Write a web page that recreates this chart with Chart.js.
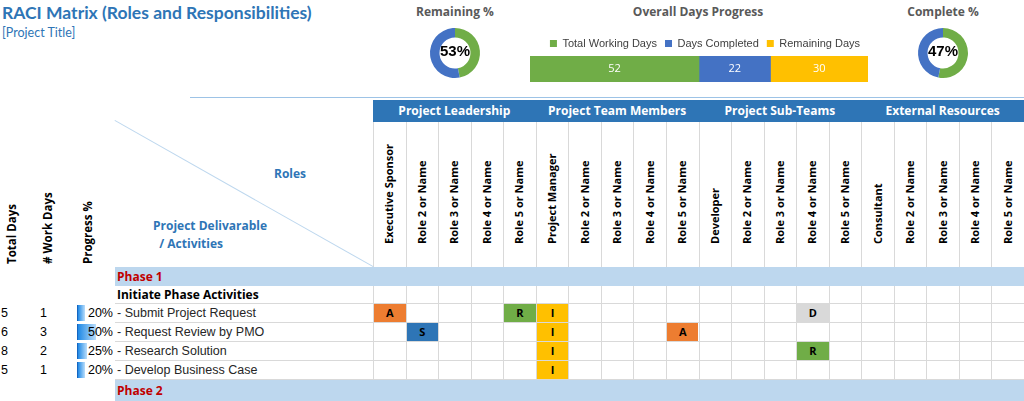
<!DOCTYPE html>
<html><head><meta charset="utf-8">
<script src="https://cdn.jsdelivr.net/npm/chart.js@4/dist/chart.umd.min.js"></script>
<style>
body{margin:0;width:1024px;height:401px;overflow:hidden;background:#fff;font-family:"Open Sans",Lato,sans-serif;position:relative}
.a{position:absolute;white-space:nowrap}
.t{font-weight:bold;color:#595959;font-size:12px;text-align:center}
.rot{transform-origin:left top;transform:rotate(-90deg);font-weight:bold;font-size:11px;color:#000}
</style></head><body>
<script>
const remainingPct=53, completePct=47;
const dayLabels=["Total Working Days","Days Completed","Remaining Days"];
const dayValues=[52,22,30];
const groups=["Project Leadership","Project Team Members","Project Sub-Teams","External Resources"];
const roles=["Executive Sponsor","Role 2 or Name","Role 3 or Name","Role 4 or Name","Role 5 or Name",
"Project Manager","Role 2 or Name","Role 3 or Name","Role 4 or Name","Role 5 or Name",
"Developer","Role 2 or Name","Role 3 or Name","Role 4 or Name","Role 5 or Name",
"Consultant","Role 2 or Name","Role 3 or Name","Role 4 or Name","Role 5 or Name"];
const rowLabels=["Phase 1","Initiate Phase Activities"," - Submit Project Request"," - Request Review by PMO"," - Research Solution"," - Develop Business Case","Phase 2"];
const totalDays=[null,null,5,6,8,5,null];
const workDays=[null,null,1,3,2,1,null];
const progress=[null,null,20,50,25,20,null];
const raci=[{},{},{0:"A",4:"R",5:"I",13:"D"},{1:"S",5:"I",9:"A"},{5:"I",13:"R"},{5:"I"},{}];
const raciColors={A:"#ED7D31",R:"#70AD47",I:"#FFC000",S:"#2E75B6",D:"#D9D9D9"};

const B=document.body;
function el(html,style,cls){const d=document.createElement('div');d.className='a '+(cls||'');d.innerHTML=html;Object.assign(d.style,style);B.appendChild(d);return d;}
el("RACI Matrix (Roles and Responsibilities)",{left:'2px',top:'2px',fontSize:'17.5px',fontWeight:'bold',color:'#2E75B6',fontFamily:'Lato'});
el("[Project Title]",{left:'2px',top:'25px',fontSize:'12.5px',color:'#2E75B6',fontFamily:'Lato'});
el("Remaining %",{left:'405px',top:'3px',width:'100px'},'t');
el("Overall Days Progress",{left:'598px',top:'3px',width:'200px'},'t');
el("Complete %",{left:'893px',top:'3px',width:'100px'},'t');

const X0=373,CW=32.55;
el("",{left:'190px',top:'97px',width:(1024-190)+'px',height:'1px',background:'#9DC3E6'});
groups.forEach((g,i)=>el(g,{left:(X0+i*5*CW)+'px',top:'100px',width:(5*CW)+'px',height:'22px',lineHeight:'22px',background:'#2E75B6',color:'#fff',fontWeight:'bold',fontSize:'12px',textAlign:'center'}));
roles.forEach((r,i)=>{
  const x=X0+i*CW;
  el("",{left:x+'px',top:'122px',width:'1px',height:'277px',background:'#D9D9D9'});
  el(r,{left:(x+CW/2-8)+'px',top:'244px'},'rot');
});
el("",{left:'115px',top:'120px',width:'297px',height:'1px',background:'#BDD7EE',transformOrigin:'left top',transform:'rotate(29.5deg)'});
el("Roles",{left:'274px',top:'165px',fontSize:'12px',fontWeight:'bold',color:'#2E75B6'});
el("Project Delivarable<br>&nbsp;&nbsp;/ Activities",{left:'153px',top:'217px',fontSize:'12px',fontWeight:'bold',color:'#2E75B6',lineHeight:'18px'});
el("Total Days",{left:'4px',top:'264px',fontSize:'11.5px'},'rot');
el("# Work Days",{left:'40px',top:'264px',fontSize:'11.5px'},'rot');
el("Progress %",{left:'80px',top:'264px',fontSize:'11.5px'},'rot');

const tops=[267,285,304,323,342,361,380];
rowLabels.forEach((lab,r)=>{
  const y=tops[r],h=(r===6?21:19);
  const phase=lab.startsWith("Phase");
  if(phase) el("",{left:'115px',top:y+'px',width:(1024-115)+'px',height:h+'px',background:'#BDD7EE'});
  else el("",{left:'115px',top:(y+h-1)+'px',width:(1024-115)+'px',height:'1px',background:'#D9D9D9'});
  el(lab,{left:'117px',top:y+'px',height:h+'px',lineHeight:h+'px',fontSize:phase||r===1?'12px':'12.5px',fontWeight:phase||r===1?'bold':'normal',color:phase?'#C00000':(r===1?'#000':'#262626'),fontFamily:phase||r===1?'"Open Sans"':'"Liberation Sans"'});
  if(totalDays[r]!=null){
    el(totalDays[r],{left:'1px',top:y+'px',lineHeight:h+'px',fontSize:'12.5px',fontFamily:'"Liberation Sans"'});
    el(workDays[r],{left:'40px',top:y+'px',lineHeight:h+'px',fontSize:'12.5px',fontFamily:'"Liberation Sans"'});
    el("",{left:'77px',top:(y+1)+'px',width:(progress[r]*0.36)+'px',height:(h-3)+'px',background:'linear-gradient(90deg,#1E88E5,#BBDEFB)',borderLeft:'1px solid #1565C0'});
    el(progress[r]+"%",{left:'75px',top:y+'px',width:'38px',textAlign:'right',lineHeight:h+'px',fontSize:'12.5px',fontFamily:'"Liberation Sans"'});
  }
  Object.entries(raci[r]).forEach(([c,v])=>{
    el(v,{left:(X0+c*CW+1)+'px',top:y+'px',width:(CW-1)+'px',height:(h-1)+'px',lineHeight:(h-1)+'px',background:raciColors[v],textAlign:'center',fontWeight:'bold',fontSize:'11px'});
  });
});

function donut(cx,pct){
  const c=document.createElement('canvas');
  const w=el("",{left:(cx-30)+'px',top:'23px',width:'60px',height:'60px'});
  w.appendChild(c);
  new Chart(c,{type:'doughnut',data:{datasets:[{data:[100-pct,pct],backgroundColor:['#70AD47','#4472C4'],borderWidth:0}]},
   options:{responsive:true,maintainAspectRatio:false,animation:false,cutout:'62%',layout:{padding:5},plugins:{legend:{display:false},tooltip:{enabled:false}}}});
  el(pct+"%",{left:(cx-20)+'px',top:'42px',width:'40px',textAlign:'center',fontWeight:'bold',fontSize:'15px',color:'#000',fontFamily:'"Liberation Sans Narrow","Liberation Sans"'});
}
donut(455,remainingPct);
donut(943,completePct);

const bw=el("",{left:'520px',top:'30px',width:'357px',height:'52px'});
const bc=document.createElement('canvas');bw.appendChild(bc);
const labelsPlugin={id:'lbl',afterDatasetsDraw(ch){const ctx=ch.ctx;ctx.save();ctx.fillStyle='#fff';ctx.font='11px "Open Sans"';ctx.textAlign='center';ctx.textBaseline='middle';
 ch.data.datasets.forEach((d,i)=>{const m=ch.getDatasetMeta(i).data[0];ctx.fillText(d.data[0],(m.x+m.base)/2,m.y);});ctx.restore();}};
new Chart(bc,{type:'bar',data:{labels:[''],datasets:dayLabels.map((l,i)=>({label:l,data:[dayValues[i]],backgroundColor:['#70AD47','#4472C4','#FFC000'][i],barPercentage:1,categoryPercentage:1}))},
 options:{indexAxis:'y',responsive:true,maintainAspectRatio:false,animation:false,layout:{padding:{left:10,right:9}},
  scales:{x:{stacked:true,display:false,min:0,max:104},y:{stacked:true,display:false}},
  plugins:{tooltip:{enabled:false},legend:{position:'top',align:'end',labels:{boxWidth:7,boxHeight:7,padding:8,font:{size:11},color:'#404040'}}}},plugins:[labelsPlugin]});
</script>
</body></html>
